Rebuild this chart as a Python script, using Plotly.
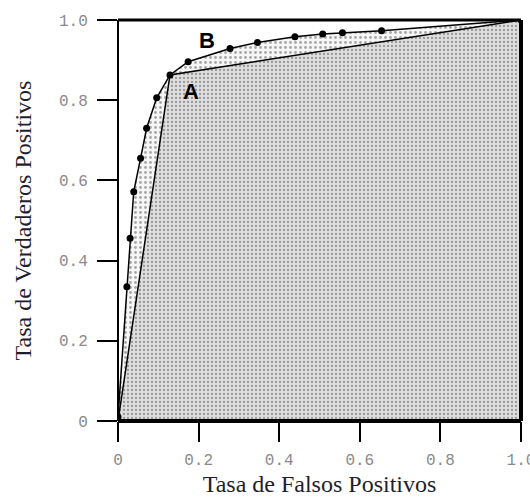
import plotly.graph_objects as go

# ROC curve of classifier B (discrete operating points)
fpr_b = [0.0, 0.022, 0.030, 0.039, 0.056, 0.071, 0.096, 0.129, 0.174, 0.278, 0.346, 0.439, 0.508, 0.557, 0.654, 1.0]
tpr_b = [0.01, 0.335, 0.456, 0.572, 0.655, 0.730, 0.806, 0.863, 0.896, 0.929, 0.944, 0.958, 0.965, 0.968, 0.973, 1.0]

# ROC curve of classifier A (single operating point)
fpr_a = [0.0, 0.129, 1.0]
tpr_a = [0.0, 0.863, 1.0]

tick_vals = [0, 0.2, 0.4, 0.6, 0.8, 1.0]
tick_text = ["0", "0.2", "0.4", "0.6", "0.8", "1.0"]

fig = go.Figure()

# area under B (light dotted)
fig.add_trace(go.Scatter(
    x=fpr_b + [1.0, 0.0], y=tpr_b + [0.0, 0.0],
    mode="lines", line=dict(width=0), fill="toself",
    fillcolor="white",
    fillpattern=dict(shape=".", fgcolor="#555555", bgcolor="#f6f6f6", size=5, solidity=0.25),
    hoverinfo="skip", showlegend=False))

# area under A (dense dotted)
fig.add_trace(go.Scatter(
    x=fpr_a + [1.0, 0.0], y=tpr_a + [0.0, 0.0],
    mode="lines", line=dict(width=0), fill="toself",
    fillcolor="white",
    fillpattern=dict(shape=".", fgcolor="#505050", bgcolor="#dedede", size=4, solidity=0.25),
    hoverinfo="skip", showlegend=False))

# curve A
fig.add_trace(go.Scatter(
    x=fpr_a, y=tpr_a, mode="lines",
    line=dict(color="black", width=1.5), showlegend=False))

# curve B with points
fig.add_trace(go.Scatter(
    x=fpr_b, y=tpr_b, mode="lines+markers",
    line=dict(color="black", width=1.5),
    marker=dict(color="black", size=7), showlegend=False))

fig.add_annotation(x=0.222, y=0.95, text="<b>B</b>", showarrow=False,
                   font=dict(family="Liberation Sans, Arial", size=22, color="black"))
fig.add_annotation(x=0.182, y=0.822, text="<b>A</b>", showarrow=False,
                   font=dict(family="Liberation Sans, Arial", size=22, color="black"))

# plot frame
for x0, y0, x1, y1, w in [(0, 0, 1, 0, 4), (1, 0, 1, 1, 4), (0, 1, 1, 1, 3), (0, 0, 0, 1, 2)]:
    fig.add_shape(type="line", xref="x domain", yref="y domain",
                  x0=x0, y0=y0, x1=x1, y1=y1, line=dict(color="black", width=w))

axis_common = dict(
    range=[0, 1], showgrid=False, zeroline=False, showline=False, automargin=False,
    ticks="outside", ticklen=20, tickwidth=1.5, tickcolor="black",
    tickvals=tick_vals, ticktext=tick_text, ticklabeloverflow="allow",
    tickfont=dict(family="Liberation Mono, Courier New", size=16, color="#8a8a8a"),
)

title_font = dict(family="Liberation Serif, Times New Roman", size=24, color="#1e1e2e")

fig.update_layout(
    width=530, height=497,
    margin=dict(l=118, r=9, t=20, b=76),
    paper_bgcolor="white", plot_bgcolor="white",
    xaxis=dict(**axis_common, ticklabelstandoff=4,
               title=dict(text="Tasa de Falsos Positivos", standoff=8, font=title_font)),
    yaxis=dict(**axis_common, ticklabelstandoff=6,
               title=dict(text="Tasa de Verdaderos Positivos", standoff=20, font=title_font)),
)

fig.write_html("out.html")
